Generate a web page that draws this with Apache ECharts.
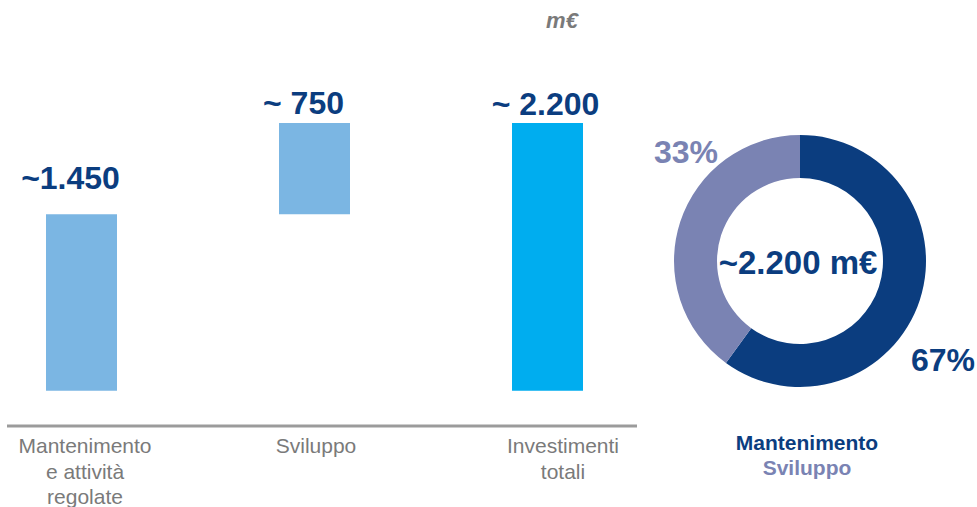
<!DOCTYPE html>
<html>
<head>
<meta charset="utf-8">
<script src="https://cdn.jsdelivr.net/npm/echarts@6/dist/echarts.min.js"></script>
<style>
  html, body { margin: 0; padding: 0; background: #fff; }
  #chart { width: 977px; height: 507px; }
</style>
</head>
<body>
<div id="chart"></div>
<script>
// dati (m€)
var categories = ['Mantenimento\ne attività\nregolate', 'Sviluppo', 'Investimenti\ntotali'];
var barBase = [0, 1450, 0];
var barValues = [1450, 750, 2200];
var barLabels = ['~1.450', '~ 750', '~ 2.200'];

var pieNames = ['Mantenimento', 'Sviluppo'];
var pieValues = [60, 40];
var pieLabels = ['67%', '33%'];
var pieCenterText = '~2.200 m€';
var unitText = 'm€';

var navy = '#0b3d7f';
var lilac = '#7a83b3';
var barColors = ['#7bb6e3', '#7bb6e3', '#00adef'];
var font = 'Liberation Sans, Arial, sans-serif';

// piccoli aggiustamenti delle etichette
var labelNudge = [
  { distance: 20, offset: [-11, 0] },
  { distance: 4, offset: [-11, 0] },
  { distance: 3, offset: [-2, 0] }
];
var catShift = [7, 3, 31];

var chart = echarts.init(document.getElementById('chart'), null, { renderer: 'svg' });

var rich = {};
catShift.forEach(function (p, i) {
  rich['c' + i] = {
    fontFamily: font,
    fontSize: 21,
    color: '#7a7a7a',
    lineHeight: 25.5,
    padding: [0, 0, 0, p]
  };
});

var option = {
  animation: false,
  title: [
    {
      text: unitText,
      left: 557,
      top: 4,
      textAlign: 'center',
      textStyle: { fontFamily: font, fontSize: 22, fontStyle: 'italic', fontWeight: 'bold', color: '#7a7a7a' }
    },
    {
      text: pieCenterText,
      left: 793,
      top: 257,
      textAlign: 'center',
      textVerticalAlign: 'middle',
      textStyle: { fontFamily: font, fontSize: 33, fontWeight: 'bold', color: navy }
    },
    {
      text: pieNames[0],
      subtext: pieNames[1],
      left: 802,
      top: 427,
      textAlign: 'center',
      itemGap: 4,
      textStyle: { fontFamily: font, fontSize: 21, fontWeight: 'bold', color: navy, lineHeight: 21 },
      subtextStyle: { fontFamily: font, fontSize: 21, fontWeight: 'bold', color: lilac, lineHeight: 21 }
    }
  ],
  // boundaryGap false: le tre categorie cadono su left, centro e right
  grid: {
    left: 81.5,
    width: 466,
    top: 123,
    bottom: 116
  },
  xAxis: {
    type: 'category',
    boundaryGap: false,
    data: categories,
    axisLine: { show: false },
    axisTick: { show: false },
    axisLabel: {
      margin: 42,
      interval: 0,
      formatter: function (value, idx) {
        return value.split('\n').map(function (s) {
          return '{c' + idx + '|' + s + '}';
        }).join('\n');
      },
      rich: rich
    }
  },
  yAxis: {
    type: 'value',
    min: 0,
    max: 2200,
    show: false,
    splitLine: { show: false }
  },
  graphic: [
    {
      type: 'line',
      shape: { x1: 7, y1: 426, x2: 637, y2: 426 },
      style: { stroke: '#9b9b9b', lineWidth: 3 }
    }
  ],
  series: [
    {
      type: 'bar',
      stack: 'w',
      barWidth: 71,
      clip: false,
      silent: true,
      itemStyle: { color: 'transparent' },
      data: barBase
    },
    {
      type: 'bar',
      stack: 'w',
      barWidth: 71,
      clip: false,
      itemStyle: {
        color: function (p) { return barColors[p.dataIndex]; }
      },
      data: barValues.map(function (v, i) {
        return {
          value: v,
          label: {
            show: true,
            position: 'top',
            distance: labelNudge[i].distance,
            offset: labelNudge[i].offset,
            formatter: barLabels[i],
            fontFamily: font,
            fontSize: 32,
            fontWeight: 'bold',
            color: navy
          }
        };
      })
    },
    {
      type: 'pie',
      center: [800, 261],
      radius: [83, 126],
      startAngle: 90,
      clockwise: true,
      silent: true,
      avoidLabelOverlap: false,
      labelLine: { show: false },
      label: {
        show: true,
        position: 'inside',
        fontFamily: font,
        fontSize: 32,
        fontWeight: 'bold',
        formatter: function (p) { return pieLabels[p.dataIndex]; }
      },
      labelLayout: function (p) {
        // 67% in basso a destra, 33% in alto a sinistra
        if (p.dataIndex === 0) {
          return { x: 943, y: 360, align: 'center', verticalAlign: 'middle' };
        }
        return { x: 686, y: 152, align: 'center', verticalAlign: 'middle' };
      },
      data: pieValues.map(function (v, i) {
        return {
          name: pieNames[i],
          value: v,
          itemStyle: { color: i === 0 ? navy : lilac },
          label: { color: i === 0 ? navy : lilac }
        };
      })
    }
  ]
};

chart.setOption(option);
</script>
</body>
</html>
